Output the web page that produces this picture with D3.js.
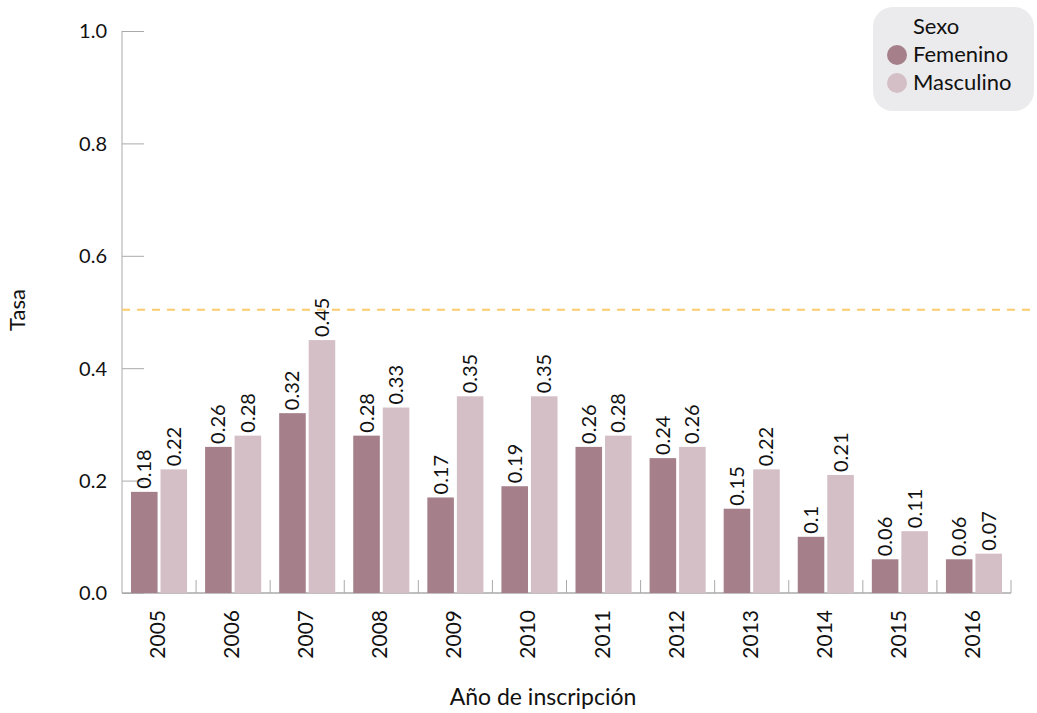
<!DOCTYPE html>
<html>
<head>
<meta charset="utf-8">
<script src="https://cdn.jsdelivr.net/npm/d3@7"></script>
<style>
  body { margin: 0; background: #fff; }
  svg text { font-family: "Source Sans Pro", "Lato", "Noto Sans", sans-serif; fill: #111; }
</style>
</head>
<body>
<svg id="chart" width="1037" height="713"></svg>
<script>
// Registration rate by year and sex
const years = ["2005","2006","2007","2008","2009","2010","2011","2012","2013","2014","2015","2016"];
const femenino = [0.18,0.26,0.32,0.28,0.17,0.19,0.26,0.24,0.15,0.1,0.06,0.06];
const masculino = [0.22,0.28,0.45,0.33,0.35,0.35,0.28,0.26,0.22,0.21,0.11,0.07];
const seriesNames = ["Femenino","Masculino"];
const seriesColors = ["#a5808b","#d4bfc6"];
const yTicks = [0,0.2,0.4,0.6,0.8,1.0];
const referenceValue = 0.504;

(function draw() {
const svg = d3.select("#chart");
const plotLeft = 122, plotRight = 1011, plotTop = 31, plotBottom = 593;

const x = d3.scaleBand().domain(years).range([plotLeft, plotRight]).paddingInner(0).paddingOuter(0);
const xInner = d3.scaleBand().domain(seriesNames).range([9, x.bandwidth() - 9]).paddingInner(0.1);
const y = d3.scaleLinear().domain([0, 1]).range([plotBottom, plotTop]);

const axisColor = "#aaaaaa";

// y axis: line plus inward ticks
const yAxis = svg.append("g").attr("transform", `translate(${plotLeft},0)`)
  .call(d3.axisRight(y).tickValues(yTicks).tickSize(22).tickFormat(d3.format(".1f")));
yAxis.select(".domain").remove();
yAxis.selectAll(".tick line").attr("stroke", axisColor);
yAxis.selectAll(".tick text").attr("x", -15).attr("dy", "0.34em").attr("text-anchor", "end")
  .attr("font-size", 20).attr("fill", "#111");
svg.append("line").attr("x1", plotLeft).attr("x2", plotLeft).attr("y1", plotTop).attr("y2", plotBottom)
  .attr("stroke", axisColor);

// x axis: baseline plus band boundary ticks
svg.append("line").attr("x1", plotLeft).attr("x2", plotRight).attr("y1", plotBottom).attr("y2", plotBottom)
  .attr("stroke", axisColor).attr("stroke-width", 1.5);
svg.append("g").selectAll("line").data(years)
  .join("line")
  .attr("x1", d => x(d) + x.bandwidth())
  .attr("x2", d => x(d) + x.bandwidth())
  .attr("y1", plotBottom).attr("y2", plotBottom - 13)
  .attr("stroke", axisColor);

svg.append("g").selectAll("text").data(years).join("text")
  .attr("transform", d => `translate(${x(d) + x.bandwidth() / 2 + 6},610) rotate(-90)`)
  .attr("text-anchor", "end")
  .attr("font-size", 21)
  .text(d => d);

// bars
const rows = years.map((yr, i) => ({ year: yr, values: [femenino[i], masculino[i]] }));
const groups = svg.append("g").selectAll("g").data(rows).join("g")
  .attr("transform", d => `translate(${x(d.year)},0)`);

groups.selectAll("rect").data(d => d.values.map((v, k) => ({ key: seriesNames[k], v, k })))
  .join("rect")
  .attr("x", d => xInner(d.key))
  .attr("width", xInner.bandwidth())
  .attr("y", d => y(d.v))
  .attr("height", d => plotBottom - y(d.v))
  .attr("fill", d => seriesColors[d.k]);

groups.selectAll("text").data(d => d.values.map((v, k) => ({ key: seriesNames[k], v, k })))
  .join("text")
  .attr("transform", d => `translate(${xInner(d.key) + xInner.bandwidth() / 2 + 7},${y(d.v) - 3}) rotate(-90)`)
  .attr("text-anchor", "start")
  .attr("font-size", 20)
  .text(d => String(d.v));

// reference line
svg.append("line").attr("x1", plotLeft).attr("x2", 1037)
  .attr("y1", y(referenceValue)).attr("y2", y(referenceValue))
  .attr("stroke", "#fccb6e").attr("stroke-width", 2).attr("stroke-dasharray", "8,7");

// axis titles
svg.append("text").attr("transform", "translate(25,310) rotate(-90)")
  .attr("text-anchor", "middle").attr("font-size", 22).text("Tasa");
svg.append("text").attr("x", 543).attr("y", 705)
  .attr("text-anchor", "middle").attr("font-size", 23).text("Año de inscripción");

// legend
const legend = svg.append("g");
legend.append("rect").attr("x", 873).attr("y", 7).attr("width", 161).attr("height", 104)
  .attr("rx", 20).attr("fill", "#ebebed");
legend.append("text").attr("x", 913).attr("y", 34).attr("font-size", 22).text("Sexo");
seriesNames.forEach((name, k) => {
  legend.append("circle").attr("cx", 897).attr("cy", 55 + k * 28).attr("r", 10)
    .attr("fill", seriesColors[k]);
  legend.append("text").attr("x", 913).attr("y", 62 + k * 28).attr("font-size", 22).text(name);
});
})();
</script>
</body>
</html>
